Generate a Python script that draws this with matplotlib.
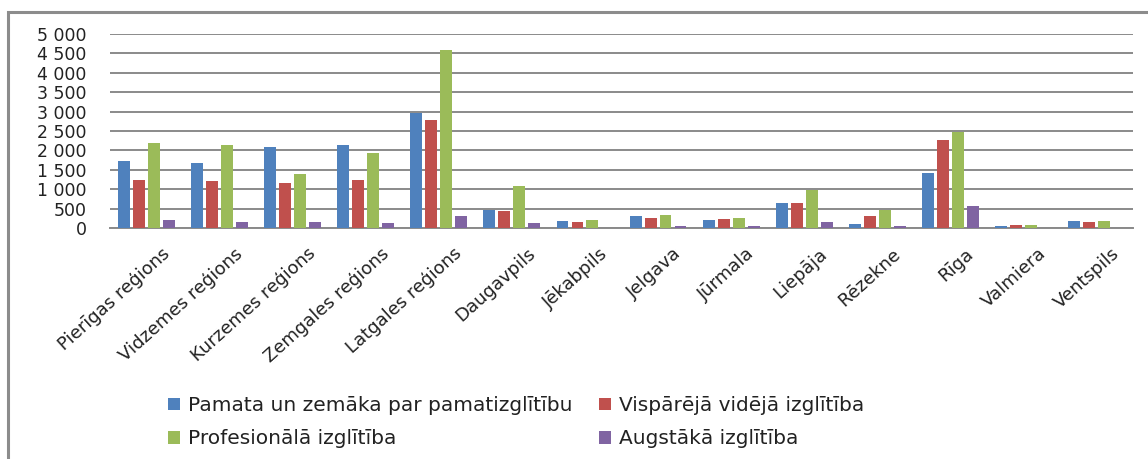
import matplotlib
matplotlib.use("Agg")
import matplotlib.pyplot as plt
import matplotlib.patches as patches
import numpy as np

categories = ["Pierīgas reģions", "Vidzemes reģions", "Kurzemes reģions",
              "Zemgales reģions", "Latgales reģions", "Daugavpils", "Jēkabpils",
              "Jelgava", "Jūrmala", "Liepāja", "Rēzekne", "Rīga", "Valmiera",
              "Ventspils"]

pamata = [1730, 1680, 2100, 2150, 2960, 460, 190, 310, 210, 640, 110, 1420, 40, 190]
visparejas = [1240, 1210, 1170, 1240, 2790, 440, 160, 260, 230, 640, 310, 2280, 70, 160]
profesionala = [2200, 2130, 1390, 1930, 4590, 1070, 210, 340, 260, 990, 460, 2470, 90, 190]
augstaka = [210, 160, 160, 140, 310, 140, 0, 40, 40, 160, 60, 560, 0, 0]

series_names = ["Pamata un zemāka par pamatizglītību", "Vispārējā vidējā izglītība",
                "Profesionālā izglītība", "Augstākā izglītība"]
series_colors = ["#4F81BD", "#C0504D", "#9BBB59", "#8064A2"]

fig = plt.figure(figsize=(11.48, 4.59), dpi=100)

# outer chart frame (runs off the right and bottom edge)
frame = patches.Rectangle((8 / 1148, -0.05), 1.2, 1 - 12 / 459 + 0.05,
                          transform=fig.transFigure, fill=False,
                          edgecolor="#8c8c8c", linewidth=2.2)
fig.patches.append(frame)

ax = fig.add_axes([110 / 1148, 1 - 228 / 459, (1133 - 110) / 1148, (228 - 34) / 459])

x = np.arange(len(categories))
pitch = 0.205
width = 0.163
all_series = [pamata, visparejas, profesionala, augstaka]
handles = []
for i, (vals, name, col) in enumerate(zip(all_series, series_names, series_colors)):
    b = ax.bar(x + (i - 1.5) * pitch, vals, width, color=col, label=name,
               linewidth=0, zorder=3)
    handles.append(b)

ax.set_xlim(-0.5, len(categories) - 0.5)
ax.set_ylim(0, 5000)
yt = np.arange(0, 5001, 500)
ax.set_yticks(yt)
ax.set_yticklabels(["{:,}".format(v).replace(",", " ") for v in yt],
                   fontsize=12.5, color="#222222")
ax.yaxis.grid(True, color="#8a8a8a", linewidth=1.4, zorder=0)
ax.tick_params(axis="both", length=0)
ax.tick_params(axis="y", pad=17)

ax.set_xticks(x + 0.2)
ax.set_xticklabels(categories, rotation=42, ha="right", rotation_mode="anchor",
                   fontsize=13, color="#222222")
ax.tick_params(axis="x", pad=12)

for s in ["top", "right", "left"]:
    ax.spines[s].set_visible(False)
ax.spines["bottom"].set_color("#8a8a8a")
ax.spines["bottom"].set_linewidth(1.4)

# legend is filled row by row in the reference
order = [0, 2, 1, 3]
leg = fig.legend([handles[k] for k in order], [series_names[k] for k in order],
                 loc="upper left", bbox_to_anchor=(150 / 1148, 1 - 378 / 459), ncol=2,
                 frameon=False, handlelength=0.6, handleheight=0.6,
                 handletextpad=0.4, columnspacing=1.3, labelspacing=0.7,
                 fontsize=14.5)
for t in leg.get_texts():
    t.set_color("#222222")

fig.savefig("out.png", dpi=100)
